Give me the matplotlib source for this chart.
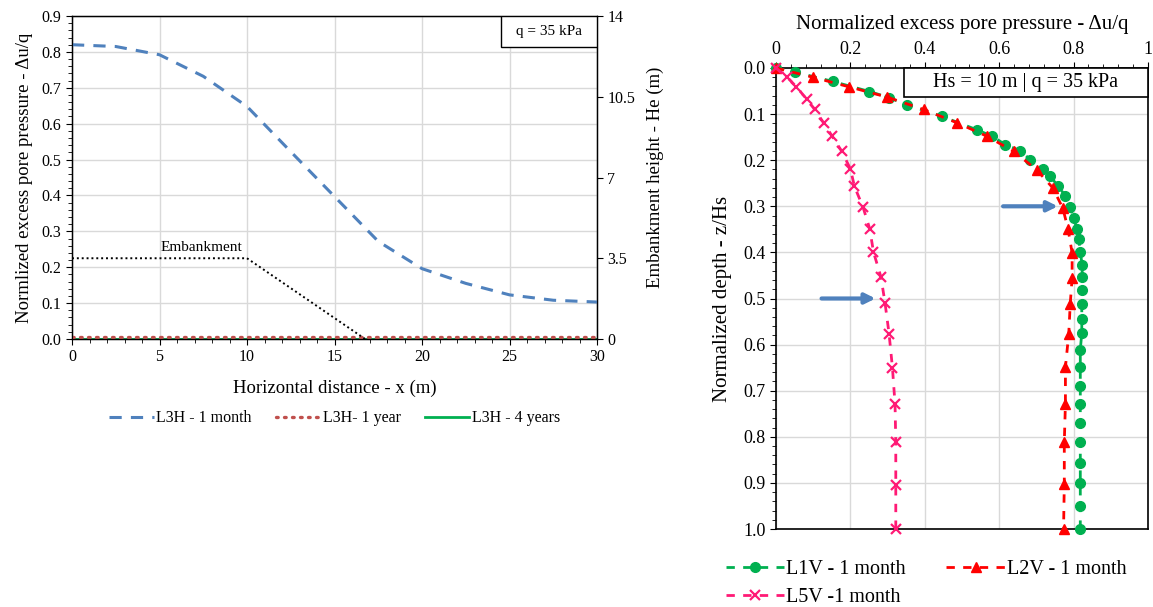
import numpy as np
import matplotlib.pyplot as plt
from matplotlib.patches import Rectangle
from matplotlib.ticker import MultipleLocator, FixedLocator

plt.rcParams['font.family'] = ['Liberation Serif', 'DejaVu Serif']

# ---- left panel data (horizontal profile) ----
x_h = [0, 2.5, 5, 7.5, 10, 12.5, 15, 17.5, 20, 22.5, 25, 27.5, 30]
du_1month = [0.820, 0.815, 0.792, 0.732, 0.648, 0.522, 0.397, 0.272, 0.196, 0.155, 0.123, 0.108, 0.103]
x_flat = [0, 30]
du_1year = [0.006, 0.006]
du_4years = [0.001, 0.001]
emb_x = [0, 10, 16.75]
emb_h = [3.5, 3.5, 0]

# ---- right panel data (vertical profiles) ----
l1v_du = [0, 0.052, 0.152, 0.251, 0.303, 0.352, 0.446, 0.540, 0.581, 0.616, 0.655, 0.684,
          0.718, 0.736, 0.758, 0.778, 0.791, 0.800, 0.809, 0.814, 0.818, 0.823, 0.823, 0.823,
          0.822, 0.822, 0.822, 0.818, 0.818, 0.818, 0.818, 0.818, 0.818, 0.818, 0.818, 0.818, 0.818]
l1v_z = [0, 0.009, 0.029, 0.051, 0.064, 0.080, 0.105, 0.134, 0.148, 0.166, 0.179, 0.199,
         0.219, 0.235, 0.255, 0.278, 0.302, 0.325, 0.349, 0.372, 0.399, 0.427, 0.453, 0.481,
         0.511, 0.544, 0.575, 0.611, 0.648, 0.689, 0.729, 0.769, 0.811, 0.856, 0.901, 0.951, 1.0]

l2v_du = [0, 0.099, 0.197, 0.298, 0.397, 0.487, 0.567, 0.639, 0.701, 0.744, 0.771, 0.785,
          0.796, 0.796, 0.791, 0.787, 0.778, 0.778, 0.775, 0.775, 0.773]
l2v_z = [0, 0.020, 0.041, 0.063, 0.090, 0.119, 0.148, 0.181, 0.221, 0.260, 0.304, 0.349,
         0.401, 0.456, 0.511, 0.576, 0.649, 0.729, 0.811, 0.903, 1.0]

l5v_du = [0, 0.030, 0.055, 0.082, 0.104, 0.128, 0.151, 0.177, 0.200, 0.211, 0.234, 0.252,
          0.262, 0.282, 0.293, 0.304, 0.313, 0.320, 0.322, 0.322, 0.322]
l5v_z = [0, 0.020, 0.041, 0.067, 0.090, 0.119, 0.148, 0.181, 0.219, 0.257, 0.302, 0.349,
         0.399, 0.453, 0.509, 0.577, 0.650, 0.729, 0.812, 0.904, 1.0]

W, H = 1153, 607
fig = plt.figure(figsize=(W / 100, H / 100), dpi=100)
fig.patch.set_facecolor('white')

grid_c = '#d9d9d9'

# ================= left panel =================
ax = fig.add_axes([72 / W, 1 - 339 / H, (597 - 72) / W, (339 - 16) / H])
ax.plot(x_h, du_1month, color='#4F81BD', lw=2.2, ls=(0, (4, 3)), label='L3H - 1 month', zorder=3)
ax.plot(x_flat, du_1year, color='#C0504D', lw=2.4, ls=(0, (0.5, 1.9)), dash_capstyle='round',
        label='L3H- 1 year', zorder=3)
ax.plot(x_flat, du_4years, color='#00B050', lw=2.0, label='L3H - 4 years', zorder=2)
ax.set_xlim(0, 30)
ax.set_ylim(0, 0.9)
ax.xaxis.set_major_locator(MultipleLocator(5))
ax.xaxis.set_minor_locator(MultipleLocator(1))
ax.yaxis.set_major_locator(MultipleLocator(0.1))
ax.yaxis.set_minor_locator(MultipleLocator(0.02))
ax.yaxis.set_major_formatter(plt.FormatStrFormatter('%.1f'))
ax.grid(True, color=grid_c, lw=1.0)
ax.set_axisbelow(True)
ax.tick_params(which='major', direction='out', length=4, labelsize=11.5)
ax.tick_params(which='minor', direction='out', length=3)
ax.set_xlabel('Horizontal distance - x (m)', fontsize=13.5, labelpad=10)
ax.set_ylabel('Normlized excess pore pressure - Δu/q', fontsize=13.5, labelpad=6)
for s in ax.spines.values():
    s.set_linewidth(1.0)

ax2 = ax.twinx()
ax2.plot(emb_x, emb_h, color='black', lw=1.4, ls=(0, (1, 1.5)))
ax2.set_ylim(0, 14)
ax2.yaxis.set_major_locator(FixedLocator([0, 3.5, 7, 10.5, 14]))
ax2.set_yticklabels(['0', '3.5', '7', '10.5', '14'])
ax2.tick_params(direction='out', length=4, labelsize=11.5)
ax2.set_ylabel('Embankment height - He (m)', fontsize=13.5, labelpad=8)
ax2.text(7.4, 3.95, 'Embankment', fontsize=11, ha='center', va='center')

# q box (top right of left panel)
ax2.add_patch(Rectangle((0.817, 0.905), 0.183, 0.095, transform=ax.transAxes, fc='white',
                        ec='black', lw=1.0, zorder=5))
ax2.text(0.9085, 0.9525, 'q = 35 kPa', transform=ax.transAxes, fontsize=11,
         ha='center', va='center', zorder=6)

ax.legend(loc='center', bbox_to_anchor=(0.5, -0.245), ncol=3, frameon=False, fontsize=11.5,
          handlelength=2.8, handletextpad=0.15, columnspacing=1.5)

# ================= right panel =================
bx = fig.add_axes([776 / W, 1 - 529 / H, (1148 - 776) / W, (529 - 68) / H])
ms = 7
h1, = bx.plot(l1v_du, l1v_z, color='#00B050', lw=2.0, ls=(0, (3, 3)), marker='o', ms=ms,
              label='L1V - 1 month', zorder=3, clip_on=False)
h2, = bx.plot(l2v_du, l2v_z, color='#FF0000', lw=2.0, ls=(0, (3, 3)), marker='^', ms=ms,
              label='L2V - 1 month', zorder=4, clip_on=False)
h5, = bx.plot(l5v_du, l5v_z, color='#FF1A75', lw=2.0, ls=(0, (3, 3)), marker='x', ms=ms, mew=1.6,
              label='L5V -1 month', zorder=4, clip_on=False)
bx.set_xlim(0, 1)
bx.set_ylim(1, 0)
bx.xaxis.tick_top()
bx.xaxis.set_label_position('top')
bx.xaxis.set_minor_locator(MultipleLocator(0.04))
bx.yaxis.set_major_locator(MultipleLocator(0.1))
bx.yaxis.set_minor_locator(MultipleLocator(0.02))
bx.set_xticks([0, 0.2, 0.4, 0.6, 0.8, 1.0])
bx.set_xticklabels(['0', '0.2', '0.4', '0.6', '0.8', '1'])
bx.yaxis.set_major_formatter(plt.FormatStrFormatter('%.1f'))
bx.grid(True, color=grid_c, lw=1.0)
bx.set_axisbelow(True)
bx.tick_params(which='major', direction='out', length=4, labelsize=13)
bx.tick_params(which='minor', direction='out', length=3)
bx.set_xlabel('Normalized excess pore pressure - Δu/q', fontsize=15, labelpad=8)
bx.set_ylabel('Normalized depth - z/Hs', fontsize=15, labelpad=8)
for s in bx.spines.values():
    s.set_linewidth(1.2)

bx.annotate('', xy=(0.765, 0.3), xytext=(0.603, 0.3),
            arrowprops=dict(arrowstyle='-|>', color='#4F81BD', lw=3, mutation_scale=15), zorder=6)
bx.annotate('', xy=(0.275, 0.5), xytext=(0.115, 0.5),
            arrowprops=dict(arrowstyle='-|>', color='#4F81BD', lw=3, mutation_scale=15), zorder=6)

# Hs box (top right of right panel)
bx.add_patch(Rectangle((0.344, 0.937), 0.656, 0.063, transform=bx.transAxes, fc='white',
                       ec='black', lw=1.2, zorder=5, clip_on=False))
bx.text(0.672, 0.9685, 'Hs = 10 m | q = 35 kPa', transform=bx.transAxes, fontsize=14.5,
        ha='center', va='center', zorder=6)

fig.legend(handles=[h1, h5, h2], labels=[h1.get_label(), h5.get_label(), h2.get_label()],
           loc='upper left', bbox_to_anchor=(716 / W, 1 - 550 / H), ncol=2, frameon=False,
           fontsize=14.5, handlelength=2.9, handletextpad=0.1, columnspacing=2.0,
           borderpad=0, labelspacing=0.45, numpoints=1)

fig.savefig('out.png', dpi=100, facecolor='white')
